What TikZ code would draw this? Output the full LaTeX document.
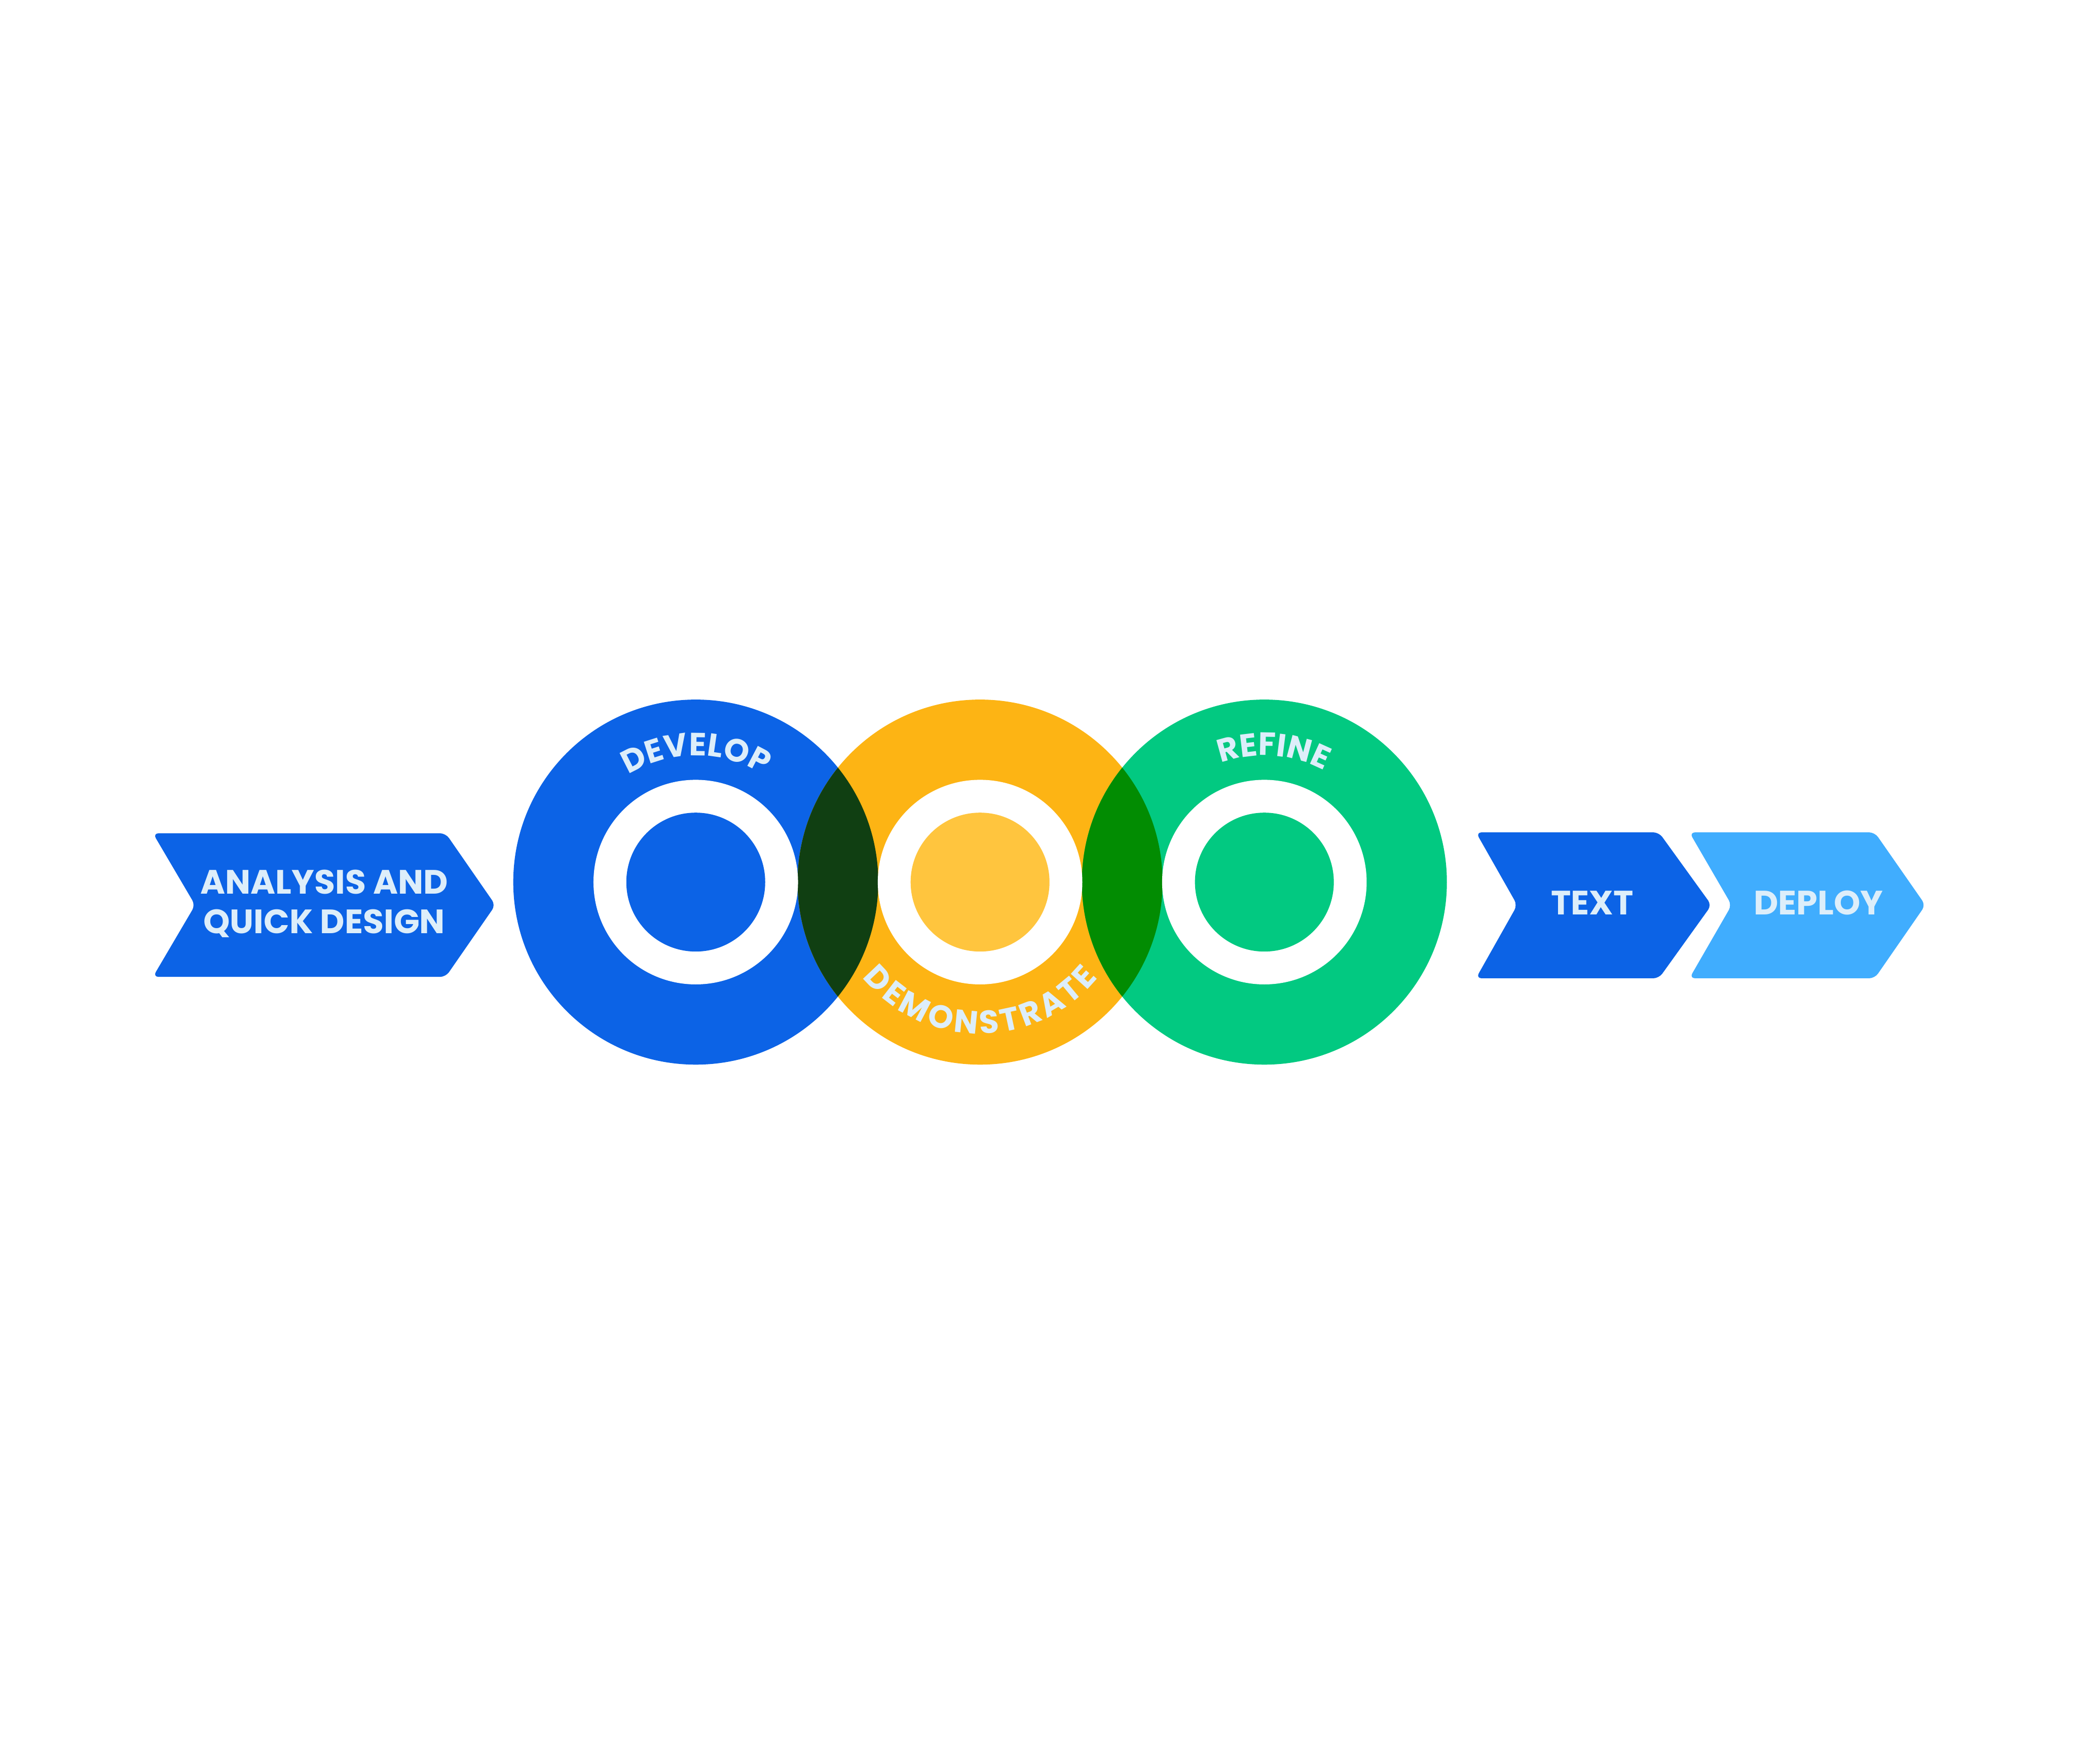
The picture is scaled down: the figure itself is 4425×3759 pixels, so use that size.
\documentclass[tikz,border=0pt]{standalone}
\usepackage{fontspec}
\setmainfont{Poppins}
\usetikzlibrary{decorations.text}

\definecolor{devblue}{HTML}{0C63E6}
\definecolor{demoyellow}{HTML}{FDB414}
\definecolor{demolight}{HTML}{FFC53E}
\definecolor{refgreen}{HTML}{02C981}
\definecolor{lensdark}{HTML}{103F12}
\definecolor{lensgreen}{HTML}{028C02}
\definecolor{deploysky}{HTML}{40ADFE}
\definecolor{paletxt}{HTML}{DDEEFA}

\tikzset{
  chevron/.style={rounded corners=1.2mm},
  label/.style={font=\fontsize{20.5}{24.2}\selectfont\bfseries, text=paletxt, inner sep=0pt},
}
\newcommand{\arcfont}{\fontsize{19.5}{20}\selectfont\bfseries\color{paletxt}}

\begin{document}
\begin{tikzpicture}[x=0.1mm,y=0.1mm]
\useasboundingbox (0,-1879) rectangle (4425,1880);

% Centres of the three rings
\coordinate (develop) at (1483,0);
\coordinate (demo) at (2089,0);
\coordinate (refine) at (2695,0);

% Chevron before the rings
\fill[devblue, chevron] (326,104) -- (950,104) -- (1056,-49) -- (950,-202)
  -- (326,-202) -- (416,-49) -- cycle;
\node[label, align=center] (analysis) at (691,-46) {ANALYSIS AND\\QUICK DESIGN};

% Outer discs
\fill[devblue] (develop) circle (389);
\fill[demoyellow] (demo) circle (389);
\fill[refgreen] (refine) circle (389);

% Overlaps
\begin{scope}
\clip (develop) circle (389);
\fill[lensdark] (demo) circle (389);
\end{scope}
\begin{scope}
\clip (demo) circle (389);
\fill[lensgreen] (refine) circle (389);
\end{scope}

% White rings and inner discs
\fill[white] (develop) circle (218);
\fill[white] (demo) circle (218);
\fill[white] (refine) circle (218);
\fill[devblue] (develop) circle (148);
\fill[demolight] (demo) circle (148);
\fill[refgreen] (refine) circle (148);

% Curved labels
\path[decorate, decoration={text along path, text align=center,
  text={|\arcfont|DEVELOP}}]
  (develop) ++(150:270) arc[start angle=150, end angle=30, radius=270];
\path[decorate, decoration={text along path, text align=fit to path,
  text={|\arcfont|DEMONSTRATE}}]
  (demo) ++(219:323) arc[start angle=219, end angle=321, radius=323];
\path[decorate, decoration={text along path, text align=center,
  text={|\arcfont|REFINE}}]
  (refine) ++(146:270) arc[start angle=146, end angle=26, radius=270];

% Chevrons after the rings
\fill[devblue, chevron] (3146,106) -- (3536,106) -- (3648,-49) -- (3536,-205)
  -- (3146,-205) -- (3234,-49) -- cycle;
\node[label, anchor=base] (text) at (3394,-69) {TEXT};

\fill[deploysky, chevron] (3601,106) -- (3996,106) -- (4104,-49) -- (3996,-205)
  -- (3601,-205) -- (3691,-49) -- cycle;
\node[label, anchor=base] (deploy) at (3876,-69) {DEPLOY};

\end{tikzpicture}
\end{document}
